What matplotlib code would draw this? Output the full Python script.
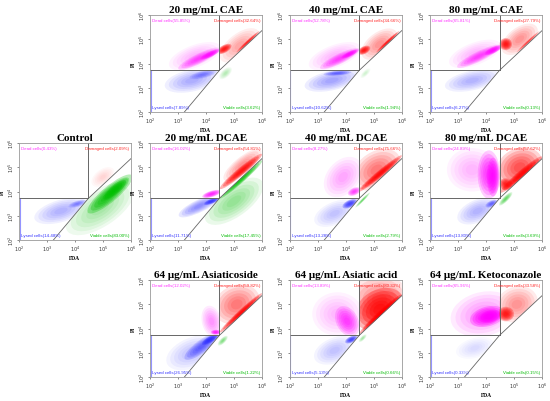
import matplotlib
matplotlib.use("Agg")
from matplotlib import pyplot as plt
from matplotlib.patches import Ellipse, Polygon

# panel titles and grid slots (row, col)
titles = ["20 mg/mL CAE", "40 mg/mL CAE", "80 mg/mL CAE",
          "Control", "20 mg/mL DCAE", "40 mg/mL DCAE", "80 mg/mL DCAE",
          "64 \u03bcg/mL Asiaticoside", "64 \u03bcg/mL Asiatic acid", "64 \u03bcg/mL Ketoconazole"]
slots = [(0, 1), (0, 2), (0, 3),
         (1, 0), (1, 1), (1, 2), (1, 3),
         (2, 1), (2, 2), (2, 3)]

# quadrant percentages
dead = [55.85, 52.78, 65.81, 0.43, 16.02, 8.27, 24.89, 12.02, 13.89, 65.96]
damaged = [32.64, 34.66, 27.79, 2.09, 54.81, 75.66, 57.62, 59.82, 80.33, 33.58]
lysed = [7.89, 10.62, 6.27, 14.48, 11.71, 13.28, 13.80, 26.95, 5.13, 0.33]
viable = [3.62, 1.94, 0.13, 83.00, 17.45, 2.79, 3.69, 1.22, 0.66, 0.15]

# gate (log10 units): vertical FDA cut, horizontal PI cut, diagonal ends
gate_x = 4.48
gate_y = 3.72
diag_start = (3.23, 2.0)
diag_end = (6.0, 5.36)

# estimated cell populations per panel (log10 FDA, log10 PI):
# (quadrant, centre x, centre y, spread along, spread across, angle, density)
clouds = [
    [("D", 3.75, 4.2, 1.7, 0.4, 30, 0.5), ("D", 4.15, 4.38, 0.8, 0.22, 30, 0.9),
     ("D", 3.6, 4.3, 2.0, 0.9, 25, 0.15), ("R", 4.65, 4.6, 0.6, 0.3, 35, 0.9),
     ("R", 5.2, 4.75, 1.8, 0.9, 45, 0.2), ("R", 5.5, 4.9, 1.2, 0.12, 47, 0.7),
     ("B", 3.5, 3.3, 2.0, 0.9, 15, 0.22), ("B", 3.9, 3.55, 1.0, 0.3, 15, 0.35),
     ("G", 4.7, 3.6, 0.6, 0.3, 50, 0.15)],
    [("D", 3.78, 4.2, 1.6, 0.4, 30, 0.5), ("D", 4.15, 4.4, 0.7, 0.2, 30, 0.9),
     ("D", 3.6, 4.3, 2.0, 0.9, 25, 0.15), ("R", 4.65, 4.55, 0.5, 0.3, 35, 0.9),
     ("R", 5.2, 4.8, 1.6, 0.9, 45, 0.25), ("R", 5.5, 4.9, 1.2, 0.12, 47, 0.8),
     ("B", 3.5, 3.3, 2.0, 0.8, 15, 0.25), ("B", 3.7, 3.6, 1.0, 0.2, 5, 0.5),
     ("G", 4.7, 3.6, 0.5, 0.2, 50, 0.1)],
    [("D", 3.75, 4.3, 1.8, 0.4, 30, 0.5), ("D", 4.25, 4.55, 0.7, 0.25, 30, 0.9),
     ("D", 3.6, 4.4, 2.0, 0.9, 25, 0.15), ("R", 4.7, 4.8, 0.45, 0.5, 0, 0.9),
     ("R", 5.2, 5.0, 1.6, 0.9, 45, 0.25), ("R", 5.5, 4.9, 1.2, 0.1, 47, 0.5),
     ("B", 3.5, 3.3, 2.0, 0.8, 15, 0.2)],
    [("G", 5.25, 3.9, 2.2, 0.6, 45, 0.85), ("G", 5.45, 4.1, 1.2, 0.35, 45, 0.9),
     ("G", 4.9, 3.3, 3.0, 1.4, 40, 0.2), ("B", 3.5, 3.2, 2.0, 0.9, 20, 0.2),
     ("B", 4.1, 3.5, 0.7, 0.25, 20, 0.35), ("R", 5.0, 4.6, 1.0, 0.6, 45, 0.08)],
    [("R", 5.25, 4.83, 2.08, 0.3, 44, 0.9), ("R", 5.3, 5.1, 1.8, 0.6, 44, 0.25),
     ("G", 5.25, 4.5, 2.18, 0.25, 46, 0.85), ("G", 5.0, 3.6, 2.6, 1.2, 42, 0.25),
     ("D", 4.2, 3.9, 0.7, 0.25, 20, 0.8), ("B", 3.75, 3.4, 1.65, 0.5, 30, 0.35),
     ("B", 4.2, 3.6, 0.6, 0.2, 25, 0.9)],
    [("R", 5.22, 4.74, 2.17, 0.25, 44, 0.95), ("R", 5.1, 4.9, 2.0, 1.4, 45, 0.35),
     ("D", 3.9, 4.6, 1.8, 1.2, 60, 0.2), ("D", 4.3, 4.0, 0.5, 0.3, 30, 0.6),
     ("B", 4.15, 3.5, 0.6, 0.3, 30, 0.8), ("B", 3.6, 3.1, 1.6, 0.9, 30, 0.15),
     ("G", 4.6, 3.65, 0.8, 0.1, 50, 0.4)],
    [("D", 4.1, 4.7, 0.8, 2.0, 0, 0.6), ("D", 4.25, 4.6, 0.45, 1.6, 0, 0.8),
     ("D", 3.5, 4.9, 1.8, 1.8, 0, 0.15), ("R", 5.2, 5.0, 1.8, 1.5, 45, 0.5),
     ("R", 5.25, 4.7, 2.1, 0.3, 45, 0.95), ("R", 4.7, 4.3, 0.5, 0.5, 0, 0.8),
     ("B", 3.7, 3.2, 1.6, 0.9, 30, 0.2), ("B", 4.2, 3.5, 0.5, 0.25, 30, 0.5),
     ("G", 4.7, 3.7, 0.7, 0.2, 50, 0.4)],
    [("B", 3.87, 3.28, 1.64, 0.5, 41, 0.5), ("B", 4.15, 3.55, 0.7, 0.25, 35, 0.95),
     ("B", 3.5, 3.0, 2.0, 1.2, 30, 0.15), ("D", 4.2, 4.3, 0.7, 1.3, 10, 0.25),
     ("D", 4.35, 3.85, 0.35, 0.2, 0, 0.8), ("R", 5.25, 4.65, 2.2, 0.22, 47, 0.95),
     ("R", 5.1, 5.0, 1.8, 1.5, 45, 0.35), ("G", 4.6, 3.5, 0.5, 0.2, 50, 0.3)],
    [("R", 5.2, 4.8, 2.0, 1.5, 45, 0.85), ("R", 5.25, 4.6, 2.2, 0.25, 47, 1.0),
     ("R", 5.2, 5.2, 2.2, 2.0, 0, 0.3), ("D", 4.05, 4.3, 0.8, 1.3, 20, 0.55),
     ("D", 3.7, 4.6, 1.8, 1.8, 0, 0.15), ("B", 4.2, 3.55, 0.5, 0.25, 30, 0.8),
     ("B", 3.6, 3.1, 1.6, 1.0, 30, 0.15), ("G", 4.6, 3.6, 0.4, 0.15, 50, 0.2)],
    [("D", 4.05, 4.5, 1.3, 0.8, 20, 0.85), ("D", 4.15, 4.5, 0.8, 0.5, 20, 0.9),
     ("D", 3.9, 4.6, 2.4, 1.8, 20, 0.25), ("R", 4.7, 4.6, 0.6, 0.6, 0, 0.85),
     ("R", 5.1, 5.0, 1.6, 1.4, 45, 0.25), ("B", 3.6, 3.2, 1.4, 0.8, 20, 0.08)],
]

colors = {"D": "#ff00ff", "R": "#ff0000", "B": "#2a2aff", "G": "#00c000"}
txt_colors = {"D": "#ff33ff", "R": "#ff2222", "B": "#3333ff", "G": "#00bb00"}

col_left = [0.0345, 0.2727, 0.527, 0.782]
row_bottom = [0.719, 0.4005, 0.0597]
ax_w, ax_h = 0.2036, 0.241

plt.rcParams['font.family'] = ['Liberation Serif', 'DejaVu Serif']
fig = plt.figure(figsize=(5.5, 4.02), dpi=100)

ticks = [2, 3, 4, 5, 6]
tick_labels = ["$10^{%d}$" % t for t in ticks]
layers = [1.0, 0.85, 0.7, 0.55, 0.4, 0.25]

for i, title in enumerate(titles):
    r, c = slots[i]
    ax = fig.add_axes([col_left[c], row_bottom[r], ax_w, ax_h])
    ax.set_xlim(2, 6)
    ax.set_ylim(2, 6)

    corner = (gate_x, gate_y)
    regions = {
        "D": [(2, gate_y), corner, (gate_x, 6), (2, 6)],
        "R": [corner, diag_end, (6, 6), (gate_x, 6)],
        "B": [(2, 2), diag_start, corner, (2, gate_y)],
        "G": [diag_start, (6, 2), diag_end, corner],
    }

    for q, x0, y0, w, h, ang, dens in clouds[i]:
        clip = Polygon(regions[q], closed=True, transform=ax.transData)
        for s in layers:
            e = Ellipse((x0, y0), w * s, h * s, angle=ang, facecolor=colors[q],
                        edgecolor="none", alpha=min(1.0, dens * 0.33))
            ax.add_patch(e)
            e.set_clip_path(clip)

    # events piled on the left edge
    ax.plot([2.02, 2.02], [2.0, gate_y], color=colors["B"], lw=0.8, alpha=0.5)

    # gate lines
    g = "#666666"
    ax.plot([2, gate_x], [gate_y, gate_y], color=g, lw=0.7)
    ax.plot([gate_x, gate_x], [gate_y, 6], color=g, lw=0.7)
    ax.plot([diag_start[0], corner[0], diag_end[0]],
            [diag_start[1], corner[1], diag_end[1]], color=g, lw=0.6)

    fs = 3.2
    sans = ['Liberation Sans', 'DejaVu Sans']
    ax.text(0.02, 0.975, "Dead cells(%.2f%%)" % dead[i], transform=ax.transAxes,
            ha="left", va="top", fontsize=fs, color=txt_colors["D"], family=sans)
    ax.text(0.985, 0.975, "Damaged cells(%.2f%%)" % damaged[i], transform=ax.transAxes,
            ha="right", va="top", fontsize=fs, color=txt_colors["R"], family=sans)
    ax.text(0.02, 0.03, "Lysed cells(%.2f%%)" % lysed[i], transform=ax.transAxes,
            ha="left", va="bottom", fontsize=fs, color=txt_colors["B"], family=sans)
    ax.text(0.985, 0.03, "Viable cells(%.2f%%)" % viable[i], transform=ax.transAxes,
            ha="right", va="bottom", fontsize=fs, color=txt_colors["G"], family=sans)

    ax.set_xticks(ticks)
    ax.set_yticks(ticks)
    ax.set_xticklabels(tick_labels)
    ax.set_yticklabels(tick_labels, rotation=90, va="center")
    ax.tick_params(labelsize=3.5, length=1.5, width=0.4, pad=1.0, colors="#333333")
    for sp in ax.spines.values():
        sp.set_color("#999999")
        sp.set_linewidth(0.6)
    ax.set_xlabel("FDA", fontsize=4, fontweight="bold", labelpad=1.5)
    ax.set_ylabel("PI", fontsize=4, fontweight="bold", labelpad=1.0)
    ax.set_title(title, fontsize=8, fontweight="bold", pad=2)

fig.savefig("out.png", dpi=100)
